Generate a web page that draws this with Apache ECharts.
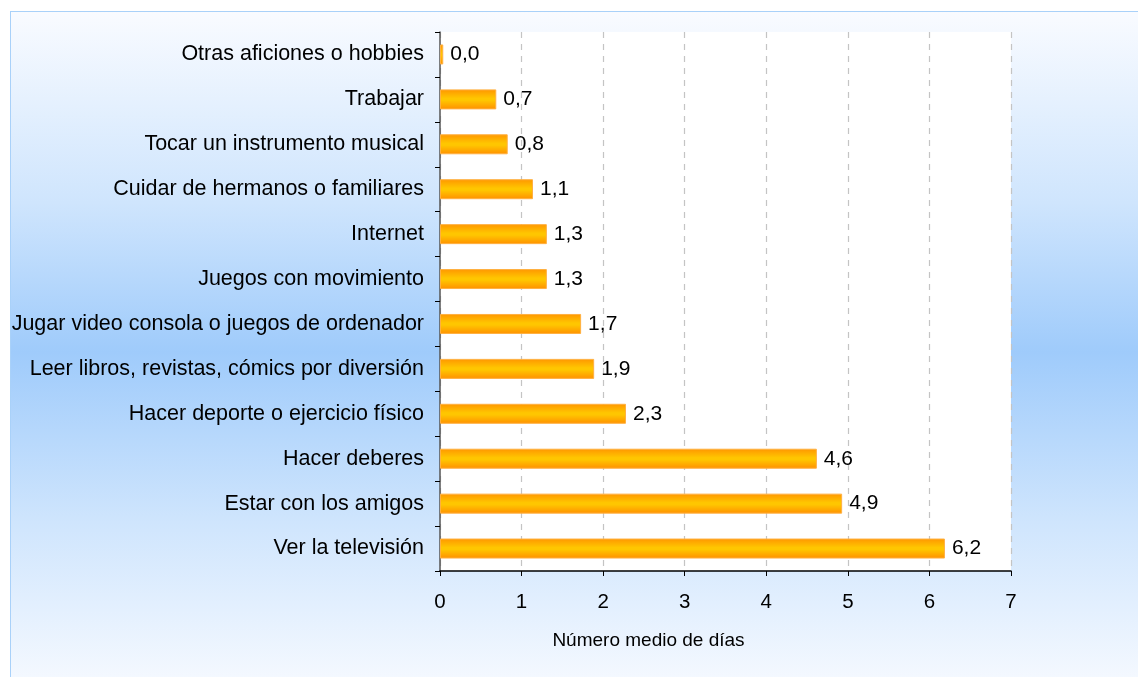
<!DOCTYPE html>
<html>
<head>
<meta charset="utf-8">
<script src="https://cdn.jsdelivr.net/npm/echarts@6/dist/echarts.min.js"></script>
<style>
  html, body { margin: 0; padding: 0; background: #ffffff; }
  #wrap { position: relative; width: 1138px; height: 677px; overflow: hidden; }
  #panel {
    position: absolute; left: 10px; top: 11px; width: 1200px; height: 680px;
    border-left: 1px solid #a9d1f9; border-top: 1px solid #a9d1f9;
    background: linear-gradient(to bottom, #f9fbff 0%, #cfe5fd 28%, #9fcbfb 50%, #cfe5fd 75%, #f7faff 100%);
  }
  #chart { position: absolute; left: 0; top: 0; width: 1138px; height: 677px; }
</style>
</head>
<body>
<div id="wrap">
  <div id="panel"></div>
  <div id="chart"></div>
</div>
<script>
const categories = [
  'Otras aficiones o hobbies',
  'Trabajar',
  'Tocar un instrumento musical',
  'Cuidar de hermanos o familiares',
  'Internet',
  'Juegos con movimiento',
  'Jugar video consola o juegos de ordenador',
  'Leer libros, revistas, cómics por diversión',
  'Hacer deporte o ejercicio físico',
  'Hacer deberes',
  'Estar con los amigos',
  'Ver la televisión'
];
const values = [0.04, 0.69, 0.83, 1.14, 1.31, 1.31, 1.73, 1.89, 2.28, 4.62, 4.93, 6.19];
const xTicks = [0, 1, 2, 3, 4, 5, 6, 7];
const axisTitle = 'Número medio de días';

const chart = echarts.init(document.getElementById('chart'), null, { renderer: 'canvas' });
const font = 'Liberation Sans, Arial, sans-serif';
chart.setOption({
  backgroundColor: 'transparent',
  animation: false,
  grid: {
    left: 440, right: 127, top: 32, bottom: 106,
    show: true, backgroundColor: '#ffffff', borderWidth: 0
  },
  xAxis: {
    type: 'value',
    min: xTicks[0], max: xTicks[xTicks.length - 1], interval: 1,
    name: axisTitle,
    nameLocation: 'middle',
    nameGap: 60,
    nameTextStyle: { fontFamily: font, fontSize: 19, color: '#000', padding: [0, 154, 0, 0] },
    axisLine: { show: true, lineStyle: { color: '#000', width: 1.5 } },
    axisTick: { show: true, length: 5, lineStyle: { color: '#000' } },
    axisLabel: { fontFamily: font, fontSize: 20.5, color: '#000', margin: 21 },
    splitLine: { show: true, lineStyle: { color: '#c4c4c4', type: [6, 6], width: 1.2 } }
  },
  yAxis: {
    type: 'category',
    inverse: true,
    data: categories,
    axisLine: { show: true, lineStyle: { color: '#555', width: 1.5 } },
    axisTick: { show: true, length: 5, lineStyle: { color: '#000' } },
    axisLabel: { fontFamily: font, fontSize: 21.5, color: '#000', margin: 16 },
    splitLine: { show: false }
  },
  series: [{
    type: 'bar',
    data: values,
    barWidth: 20,
    itemStyle: {
      color: new echarts.graphic.LinearGradient(0, 0, 0, 1, [
        { offset: 0, color: '#ff9600' },
        { offset: 0.45, color: '#ffc600' },
        { offset: 0.55, color: '#ffc600' },
        { offset: 1, color: '#ff9000' }
      ]),
      borderColor: '#ffb040',
      borderWidth: 1
    },
    label: {
      show: true,
      position: 'right',
      distance: 7,
      fontFamily: font,
      fontSize: 21,
      color: '#000',
      formatter: p => p.value.toFixed(1).replace('.', ',')
    }
  }]
});
</script>
</body>
</html>
